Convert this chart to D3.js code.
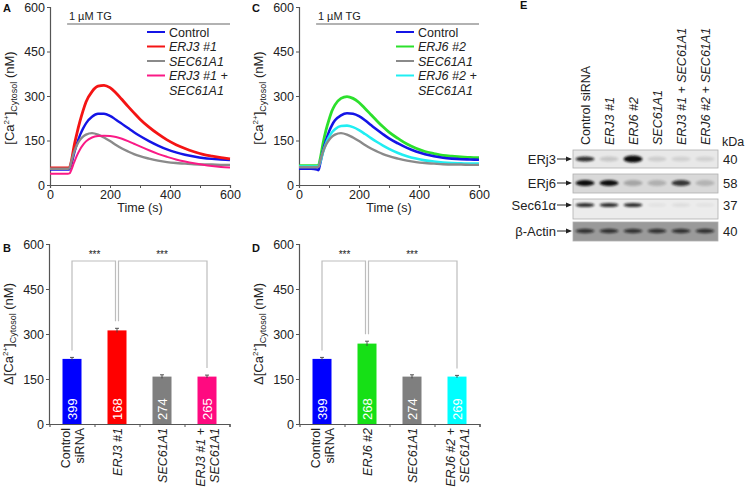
<!DOCTYPE html>
<html><head><meta charset="utf-8">
<script src="https://cdn.jsdelivr.net/npm/d3@7"></script>
<style>
body{margin:0;background:#fff;}
svg{display:block;font-family:"Liberation Sans",Arial,sans-serif;}
</style></head>
<body><svg id="c" width="745" height="487"></svg>
<script>
// ---------- DATA ----------
const timeS = [0,20,40,60,65,70,80,90,100,110,120,140,160,180,200,220,240,260,280,300,330,360,390,420,450,480,510,540,570,600];
const aControl = [52,52,52,52,53,65,105,140,168,190,208,230,240,240,233,220,206,192,178,165,148,133,120,110,102,96,91,88,86,84];
const aErj3 = [58,58,58,58,59,75,130,175,215,250,280,315,333,336,328,310,288,265,243,222,195,172,152,136,123,112,103,97,92,88];
const aSec61 = [55,55,55,55,56,75,110,135,152,163,170,175,170,160,148,135,123,113,104,97,89,82,77,74,72,70,69,69,68,68];
const aErj3Sec = [38,38,38,38,39,48,75,100,120,135,147,160,165,166,165,162,156,148,139,130,117,105,95,86,79,73,68,64,61,59];
const cErj6 = [65,65,65,65,66,85,140,185,220,250,270,292,298,292,278,258,237,216,196,178,157,138,124,113,106,100,97,95,93,92];
const cControl = [55,55,55,52,50,70,115,150,180,202,218,235,242,240,232,218,202,186,171,157,140,125,113,104,97,92,89,87,86,85];
const cSec61 = [60,60,60,60,61,78,112,136,152,163,170,175,170,160,148,135,123,113,104,97,89,82,77,74,72,70,69,69,68,68];
const cErj6Sec = [62,62,62,62,63,75,110,140,162,178,188,199,200,195,185,172,158,145,133,122,108,97,89,83,79,76,74,73,72,72];

const yTicks = [0,150,300,450,600];
const xTicks = [0,100,200,300,400,500,600];
const xTickLabels = [0,200,400,600];

const barLabelsB = [["Control","siRNA"],["ERJ3 #1"],["SEC61A1"],["ERJ3 #1 +","SEC61A1"]];
const barValsB = [217,312,158,158];
const barErrB = [5,7,6,5];
const barNB = [399,168,274,265];
const barLabelsD = [["Control","siRNA"],["ERJ6 #2"],["SEC61A1"],["ERJ6 #2 +","SEC61A1"]];
const barValsD = [217,268,158,158];
const barErrD = [5,8,6,4];
const barND = [399,268,274,269];

const laneLabels = ["Control siRNA","ERJ3 #1","ERJ6 #2","SEC61A1","ERJ3 #1 + SEC61A1","ERJ6 #2 + SEC61A1"];
const blotRows = ["ERj3","ERj6","Sec61\u03b1","\u03b2-Actin"];
const blotKDa = ["40","58","37","40"];
const bandERj3 = [0.85,0.15,1.0,0.12,0.1,0.1];
const bandERj6 = [1.0,1.0,0.25,0.2,0.8,0.18];
const bandSec61 = [0.85,0.85,0.85,0.04,0.06,0.04];
const bandActin = [0.75,0.75,0.75,0.75,0.75,0.75];

// ---------- STYLE ----------
const C = {blue:"#1414e6", red:"#f41414", gray:"#8a8a8a", pink:"#fa1a86", green:"#2ce02c", cyan:"#20eef2"};
const axisCol = "#555";
const svg = d3.select("#c");

function styleAxis(g){
  g.selectAll(".domain").attr("stroke",axisCol).attr("stroke-width",1.2);
  g.selectAll(".tick line").attr("stroke",axisCol);
  g.selectAll(".tick text").attr("fill","#222").style("font-size","12.5px").style("font-family","Liberation Sans, Arial, sans-serif");
}
function caLabel(x,y,prefix){
  const t = svg.append("text").attr("transform",`translate(${x},${y}) rotate(-90)`)
    .attr("text-anchor","middle").attr("fill","#222").style("font-size","13px");
  t.append("tspan").text(prefix+"[Ca");
  t.append("tspan").attr("dy",-5).style("font-size","8px").text("2+");
  t.append("tspan").attr("dy",5).text("]");
  t.append("tspan").attr("dy",3).style("font-size","9px").text("Cytosol");
  t.append("tspan").attr("dy",-3).text(" (nM)");
}
function letter(x,y,s){
  svg.append("text").attr("x",x).attr("y",y).text(s).style("font-size","11px").style("font-weight","bold").attr("fill","#111");
}

// ---------- CURVE PANELS ----------
function curvePanel(x0, series, legend){
  const x = d3.scaleLinear().domain([0,600]).range([x0, x0+180]);
  const y = d3.scaleLinear().domain([0,600]).range([185,7]);
  const gx = svg.append("g").attr("transform","translate(0,185)")
    .call(d3.axisBottom(x).tickValues(xTicks).tickSize(3).tickPadding(2)
      .tickFormat(d=>xTickLabels.includes(d)?d:""));
  styleAxis(gx);
  const gy = svg.append("g").attr("transform",`translate(${x0},0)`)
    .call(d3.axisLeft(y).tickValues(yTicks).tickSize(3).tickPadding(2));
  styleAxis(gy);
  // TG bar
  svg.append("line").attr("x1",x(57)).attr("x2",x(600)).attr("y1",24).attr("y2",24).attr("stroke","#666").attr("stroke-width",1.2);
  svg.append("text").attr("x",x(63)).attr("y",19.5).text("1 \u00b5M TG").style("font-size","11px").attr("fill","#222");
  const line = d3.line().x((d,i)=>x(timeS[i])).y(d=>y(d)).curve(d3.curveMonotoneX);
  series.forEach(s=>{
    svg.append("path").datum(s.v).attr("d",line).attr("fill","none").attr("stroke",s.c).attr("stroke-width",s.w||2.4).attr("stroke-linejoin","round");
  });
  const ly = [32,46.5,61,75.5];
  legend.forEach((l,i)=>{
    svg.append("line").attr("x1",x0+97).attr("x2",x0+115).attr("y1",ly[i]).attr("y2",ly[i]).attr("stroke",l.c).attr("stroke-width",2);
    svg.append("text").attr("x",x0+119).attr("y",ly[i]).attr("dy","0.36em").text(l.n)
      .style("font-size","12.5px").style("font-style",l.it?"italic":"normal").attr("fill","#222");
  });
  svg.append("text").attr("x",x0+119).attr("y",90).attr("dy","0.36em").text("SEC61A1")
    .style("font-size","12.5px").style("font-style","italic").attr("fill","#222");
  svg.append("text").attr("x",x0+90).attr("y",212).attr("text-anchor","middle").text("Time (s)").style("font-size","12.5px").attr("fill","#222");
  caLabel(x0-36,98,"");
}

curvePanel(50,[
  {v:aControl,c:C.blue},{v:aErj3,c:C.red,w:2.8},{v:aSec61,c:C.gray},{v:aErj3Sec,c:C.pink,w:2}
],[
  {n:"Control",c:C.blue,it:false},{n:"ERJ3 #1",c:C.red,it:true},{n:"SEC61A1",c:C.gray,it:true},{n:"ERJ3 #1 +",c:C.pink,it:true}
]);
curvePanel(299,[
  {v:cErj6,c:C.green,w:2.8},{v:cControl,c:C.blue,w:2.6},{v:cErj6Sec,c:C.cyan,w:2.6},{v:cSec61,c:C.gray}
],[
  {n:"Control",c:C.blue,it:false},{n:"ERJ6 #2",c:C.green,it:true},{n:"SEC61A1",c:C.gray,it:true},{n:"ERJ6 #2 +",c:C.cyan,it:true}
]);

// ---------- BAR PANELS ----------
function barPanel(x0, labels, vals, errs, ns, cols){
  const idx = d3.range(vals.length);
  const xb = d3.scaleBand().domain(idx).range([x0+0.5, x0+180.5]).paddingInner(0);
  const xl = d3.scaleLinear().domain([0,4]).range([x0+0.5,x0+180.5]);
  const y = d3.scaleLinear().domain([0,600]).range([424,244]);
  const gx = svg.append("g").attr("transform","translate(0,424)")
    .call(d3.axisBottom(xl).tickValues([1,2,3,4]).tickSize(3).tickFormat(""));
  styleAxis(gx);
  const gy = svg.append("g").attr("transform",`translate(${x0},0)`)
    .call(d3.axisLeft(y).tickValues(yTicks).tickSize(3).tickPadding(2));
  styleAxis(gy);
  const bw = 19;
  const cx = i => xb(i)+xb.bandwidth()/2;
  svg.selectAll(null).data(vals).enter().append("rect")
    .attr("x",(d,i)=>cx(i)-bw/2).attr("width",bw).attr("y",d=>y(d)).attr("height",d=>y(0)-y(d))
    .attr("fill",(d,i)=>cols[i]);
  vals.forEach((v,i)=>{
    const g = svg.append("g").attr("stroke","#444").attr("stroke-width",0.9);
    g.append("line").attr("x1",cx(i)).attr("x2",cx(i)).attr("y1",y(v-errs[i])).attr("y2",y(v+errs[i]));
    g.append("line").attr("x1",cx(i)-2).attr("x2",cx(i)+2).attr("y1",y(v+errs[i])).attr("y2",y(v+errs[i]));
  });
  ns.forEach((n,i)=>{
    svg.append("text").attr("transform",`translate(${cx(i)},420) rotate(-90)`).attr("dy","0.36em")
      .text(n).attr("fill","#fff").style("font-size","13px");
  });
  labels.forEach((ls,i)=>{
    ls.forEach((s,j)=>{
      const off = ls.length===1?0:(j===0?-6.5:7.5);
      svg.append("text").attr("transform",`translate(${cx(i)+off},428) rotate(-90)`).attr("dy","0.36em")
        .attr("text-anchor","end").text(s).style("font-size","12.5px")
        .style("font-style",(i===0)?"normal":"italic").attr("fill","#222");
    });
  });
  const top = 261, gap = 7;
  const br = svg.append("g").attr("fill","none").attr("stroke","#bdbdbd").attr("stroke-width",1.2);
  const yEnd = i => y(vals[i]+errs[i])-gap;
  br.append("path").attr("d",`M${cx(0)},${yEnd(0)}V${top}H${cx(1)-1.5}V${yEnd(1)}`);
  br.append("path").attr("d",`M${cx(1)+1.5},${yEnd(1)}V${top}H${cx(3)}V${yEnd(3)}`);
  [[cx(0),cx(1)],[cx(1),cx(3)]].forEach(p=>{
    svg.append("text").attr("x",(p[0]+p[1])/2).attr("y",258).attr("text-anchor","middle").text("***")
      .style("font-size","10px").attr("fill","#222");
  });
}
barPanel(49,barLabelsB,barValsB,barErrB,barNB,["#0000ff","#ff0000","#7f7f7f","#ff0a80"]);
barPanel(299,barLabelsD,barValsD,barErrD,barND,["#0000ff","#16e016","#7f7f7f","#00ffff"]);
caLabel(13,334,"\u0394");
caLabel(263,334,"\u0394");

letter(3,12,"A"); letter(252,12,"C"); letter(3,252,"B"); letter(252,252,"D"); letter(520,9,"E");

// ---------- WESTERN BLOT ----------
const lane = d3.scaleBand().domain(d3.range(6)).range([573,717]);
const lc = i => lane(i)+lane.bandwidth()/2;
const defs = svg.append("defs");
defs.append("filter").attr("id","blur").attr("x","-50%").attr("y","-100%").attr("width","200%").attr("height","300%")
  .append("feGaussianBlur").attr("stdDeviation",1.3);
laneLabels.forEach((s,i)=>{
  svg.append("text").attr("transform",`translate(${lc(i)},145) rotate(-90)`).attr("dy","0.36em")
    .text(s).style("font-size","12.5px").style("font-style",i===0?"normal":"italic").attr("fill","#222");
});
svg.append("text").attr("x",722).attr("y",146).text("kDa").style("font-size","12.5px").attr("fill","#222");
const rowBox = [[150,168],[174,193],[199,219],[222,241]];
const rowBg = ["#e8e8e8","#d9d9d9","#ececec","#9a9a9a"];
const rowBandY = [159,183,205,231];
const rowBands = [bandERj3,bandERj6,bandSec61,bandActin];
const rowRy = [2.4,3,2,2.2];
blotRows.forEach((r,k)=>{
  const [y1,y2] = rowBox[k];
  svg.append("rect").attr("x",573).attr("y",y1).attr("width",145).attr("height",y2-y1)
    .attr("fill",rowBg[k]).attr("stroke","#b0b0b0").attr("stroke-width",0.8);
  rowBands[k].forEach((v,i)=>{
    svg.append("ellipse").attr("cx",lc(i)).attr("cy",rowBandY[k]).attr("rx",9.5).attr("ry",rowRy[k]*(k===0&&i===2?1.5:1))
      .attr("fill","#111").attr("opacity",v).attr("filter","url(#blur)");
  });
  const yc = rowBandY[k];
  svg.append("text").attr("x",556).attr("y",yc).attr("dy","0.36em").attr("text-anchor","end")
    .text(r).style("font-size","13px").attr("fill","#222");
  svg.append("line").attr("x1",557).attr("x2",568).attr("y1",yc).attr("y2",yc).attr("stroke","#222").attr("stroke-width",1);
  svg.append("path").attr("d",`M572,${yc}L566,${yc-2.5}L566,${yc+2.5}Z`).attr("fill","#222");
  svg.append("text").attr("x",723).attr("y",yc).attr("dy","0.36em").text(blotKDa[k]).style("font-size","13px").attr("fill","#222");
});
</script></body></html>
